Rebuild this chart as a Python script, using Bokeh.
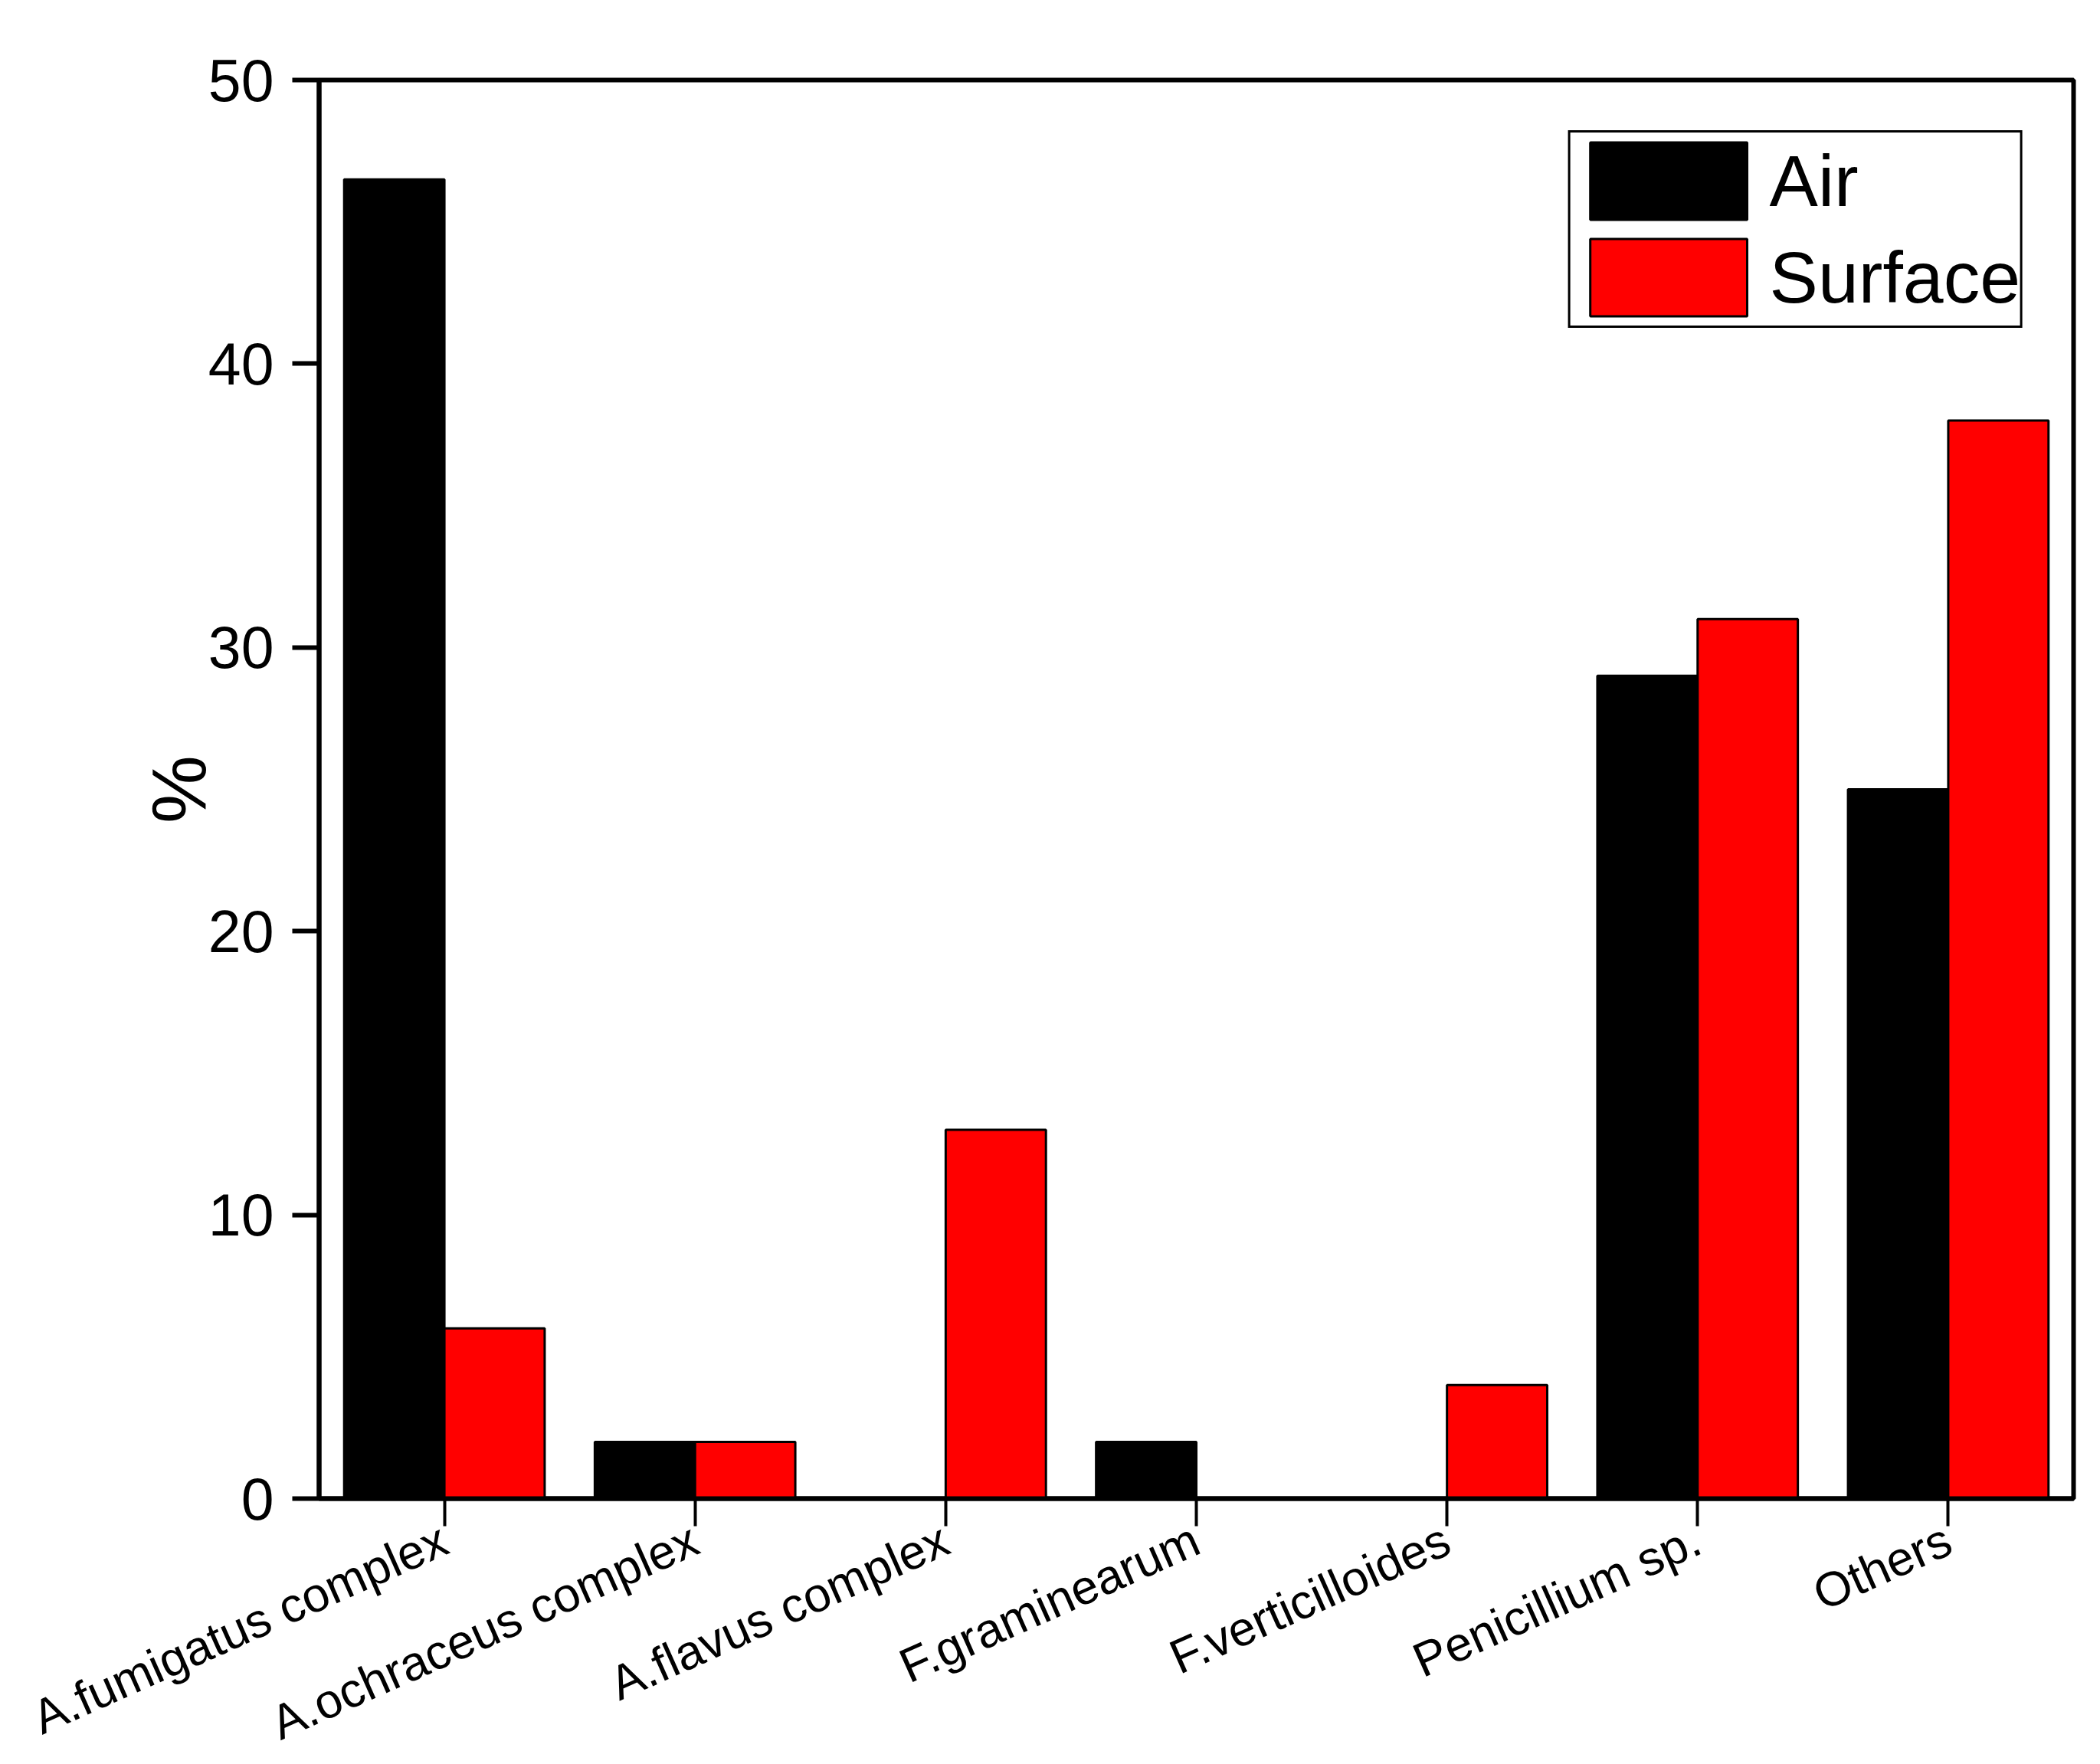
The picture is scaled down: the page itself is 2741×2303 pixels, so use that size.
from bokeh.plotting import figure
from bokeh.models import FactorRange, Range1d, FixedTicker, ColumnDataSource
from bokeh.transform import dodge
from bokeh.embed import file_html
from bokeh.resources import INLINE

categories = ["A.fumigatus complex", "A.ochraceus complex", "A.flavus complex",
              "F.graminearum", "F.verticilloides", "Penicillium sp.", "Others"]
air = [46.5, 2, 0, 2, 0, 29, 25]
surface = [6, 2, 13, 0, 4, 31, 38]
y_ticks = [0, 10, 20, 30, 40, 50]

src = ColumnDataSource(data=dict(cat=categories, air=air, surface=surface))

p = figure(x_range=FactorRange(factors=categories, range_padding=0),
           y_range=Range1d(0, 50),
           width=2724, height=2287,
           output_backend="svg", toolbar_location=None,
           min_border_left=416, min_border_right=18,
           min_border_top=104, min_border_bottom=300)

p.vbar(x=dodge("cat", -0.2, range=p.x_range), top="air", width=0.4, source=src,
       fill_color="#000000", line_color="#000000", line_width=3, legend_label="Air")
p.vbar(x=dodge("cat", 0.2, range=p.x_range), top="surface", width=0.4, source=src,
       fill_color="#FF0000", line_color="#000000", line_width=3, legend_label="Surface")

p.background_fill_color = "white"
p.border_fill_color = "white"
p.outline_line_color = "black"
p.outline_line_width = 6
p.xgrid.visible = False
p.ygrid.visible = False

# y axis
p.yaxis.ticker = FixedTicker(ticks=y_ticks)
p.yaxis.axis_label = "%"
p.yaxis.axis_label_text_font = "Liberation Sans"
p.yaxis.axis_label_text_font_size = "100px"
p.yaxis.axis_label_text_font_style = "normal"
p.yaxis.axis_label_text_color = "black"
p.yaxis.axis_label_standoff = -20
p.yaxis.major_label_text_font = "Liberation Sans"
p.yaxis.major_label_text_font_size = "77px"
p.yaxis.major_label_text_color = "black"
p.yaxis.major_label_standoff = 24
p.yaxis.axis_line_width = 6
p.yaxis.axis_line_color = "black"
p.yaxis.major_tick_line_width = 6
p.yaxis.major_tick_line_color = "black"
p.yaxis.major_tick_out = 35
p.yaxis.major_tick_in = 0
p.yaxis.minor_tick_line_color = None

# x axis
p.xaxis.major_label_orientation = 0.42
p.xaxis.major_label_text_font = "Liberation Sans"
p.xaxis.major_label_text_font_size = "63px"
p.xaxis.major_label_text_font_style = "normal"
p.xaxis.major_label_text_color = "black"
p.xaxis.major_label_standoff = 14
p.xaxis.axis_line_width = 6
p.xaxis.axis_line_color = "black"
p.xaxis.major_tick_line_width = 4
p.xaxis.major_tick_line_color = "black"
p.xaxis.major_tick_out = 36
p.xaxis.major_tick_in = 0
p.xaxis.minor_tick_line_color = None
# invisible spacer label used only to tighten the below-axis panel
p.xaxis.axis_label = " "
p.xaxis.axis_label_text_font_size = "1px"
p.xaxis.axis_label_standoff = -36

# legend
lg = p.legend[0]
lg.location = "top_right"
lg.margin = 66
lg.padding = 0
lg.spacing = 0
lg.glyph_width = 256
lg.glyph_height = 126
lg.label_height = 100
lg.label_standoff = 4
lg.label_text_font = "Liberation Sans"
lg.label_text_font_size = "95px"
lg.label_text_color = "black"
lg.border_line_color = "black"
lg.border_line_alpha = 1.0
lg.border_line_width = 3
lg.background_fill_color = "white"
lg.background_fill_alpha = 1.0

open("out.html", "w").write(file_html(p, INLINE))
